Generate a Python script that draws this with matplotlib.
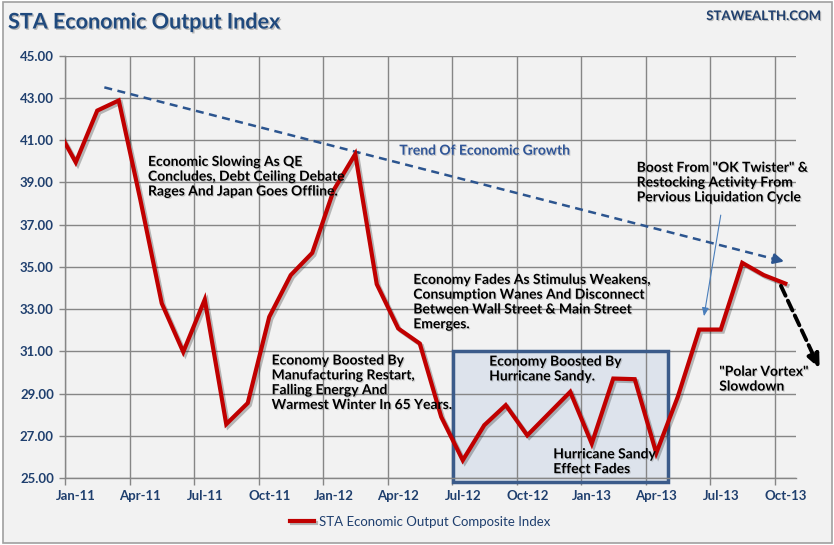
import matplotlib
matplotlib.use("Agg")
import matplotlib.pyplot as plt
import matplotlib.patheffects as pe
from matplotlib.patches import Rectangle
import numpy as np

plt.rcParams['font.family'] = ['Lato', 'DejaVu Sans']

# ---- data (monthly, Dec-10 .. Oct-13; first point lies left of the axis and is clipped)
months = ["Dec-10",
          "Jan-11", "Feb-11", "Mar-11", "Apr-11", "May-11", "Jun-11", "Jul-11", "Aug-11",
          "Sep-11", "Oct-11", "Nov-11", "Dec-11",
          "Jan-12", "Feb-12", "Mar-12", "Apr-12", "May-12", "Jun-12", "Jul-12", "Aug-12",
          "Sep-12", "Oct-12", "Nov-12", "Dec-12",
          "Jan-13", "Feb-13", "Mar-13", "Apr-13", "May-13", "Jun-13", "Jul-13", "Aug-13",
          "Sep-13", "Oct-13"]
index_values = [41.8,
                39.95, 42.40, 42.88, 38.20, 33.27, 30.97, 33.45, 27.55,
                28.55, 32.63, 34.61, 35.66,
                38.64, 40.34, 34.18, 32.08, 31.37, 27.89, 25.84, 27.50,
                28.45, 27.02, 28.05, 29.08,
                26.63, 29.71, 29.68, 26.18, 28.84, 32.03, 32.03, 35.19,
                34.61, 34.21]
tick_labels = ["Jan-11", "Apr-11", "Jul-11", "Oct-11", "Jan-12", "Apr-12", "Jul-12",
               "Oct-12", "Jan-13", "Apr-13", "Jul-13", "Oct-13"]
y_ticks = [25, 27, 29, 31, 33, 35, 37, 39, 41, 43, 45]
series_name = "STA Economic Output Composite Index"

NAVY = '#1f3f6e'
RED = '#c00000'
GRID = '#868686'

fig = plt.figure(figsize=(8.34, 5.45), dpi=100, facecolor='white')
# chart frame
fig.patches.append(Rectangle((3/834, 1-543/545), 829/834, 541/545, transform=fig.transFigure,
                             facecolor='#f2f2f2', edgecolor='#a0a0a0', lw=1.2, zorder=-10))

ax = fig.add_axes([65/834, 1-478/545, (796-65)/834, (478-55.7)/545])
ax.set_facecolor('#f2f2f2')
ax.patch.set_alpha(0)

x = np.arange(len(index_values)) - 1 + 0.5  # month centre positions, Jan-11 starts at 0
ax.set_xlim(0, 34)
ax.set_ylim(25, 45)

# grid
ax.set_axisbelow(True)
ax.set_xticks(np.arange(0, 34, 3))
ax.set_xticks(np.arange(0, 34, 3) + 0.5, minor=True)
ax.set_xticklabels([])
ax.set_xticklabels(tick_labels, minor=True)
ax.set_yticks(y_ticks)
ax.set_yticklabels([f"{v:.2f}" for v in y_ticks])
ax.grid(True, which='major', color=GRID, lw=1.0)
ax.tick_params(axis='x', which='major', length=5, color=GRID, width=1)
ax.tick_params(axis='x', which='minor', length=0, pad=9, labelsize=9.5, labelcolor=NAVY)
ax.tick_params(axis='y', length=4, color=GRID, width=1, pad=4, labelsize=9.5, labelcolor=NAVY)
for lab in ax.get_xticklabels(minor=True) + ax.get_yticklabels():
    lab.set_fontweight('bold')
for s in ['top', 'right']:
    ax.spines[s].set_visible(False)
for s in ['left', 'bottom']:
    ax.spines[s].set_color(GRID)
    ax.spines[s].set_linewidth(1.0)

# highlight box
box_x0, box_x1, box_y0, box_y1 = 18.03, 28.06, 24.81, 31.02
ax.add_patch(Rectangle((box_x0, box_y0), box_x1-box_x0, box_y1-box_y0, facecolor='#dde3ec',
                       edgecolor='none', zorder=0.3, clip_on=False))
ax.add_patch(Rectangle((box_x0, box_y0), box_x1-box_x0, box_y1-box_y0, facecolor='none',
                       edgecolor='#3b5b8a', lw=2.5, zorder=2, clip_on=False))

# main line
line, = ax.plot(x, index_values, color=RED, lw=3.0, zorder=4, solid_joinstyle='miter',
                label=series_name,
                path_effects=[pe.SimpleLineShadow(offset=(1.5, -1.5), shadow_color='k', alpha=0.25),
                              pe.Normal()])

# trend arrow
trend_start, trend_end = (1.83, 43.50), (33.57, 35.22)
ax.plot([trend_start[0], trend_end[0] - 0.5], [trend_start[1], trend_end[1] + 0.13],
        color='#2c558f', lw=1.8, ls=(0, (3.2, 2.2)), zorder=3, clip_on=False)
ax.annotate('', xy=trend_end, xytext=(trend_end[0]-0.6, trend_end[1]+0.16),
            arrowprops=dict(arrowstyle='-|>,head_length=0.6,head_width=0.3', color='#2c558f', lw=1.8),
            zorder=3, annotation_clip=False)

# polar vortex arrow
pv_start, pv_end = (33.3, 34.1), (35.1, 30.18)
ax.annotate('', xy=pv_end, xytext=pv_start,
            arrowprops=dict(arrowstyle='-|>,head_length=0.8,head_width=0.35', color='black',
                            lw=2.8, linestyle=(0, (2.8, 1.4)), shrinkA=0, shrinkB=0),
            zorder=5, annotation_clip=False)

# OK twister pointer
ax.annotate('', xy=(29.72, 32.66), xytext=(30.5, 37.45),
            arrowprops=dict(arrowstyle='-|>,head_length=0.5,head_width=0.2', color='#4a7ebb', lw=0.8,
                            shrinkA=0, shrinkB=0), zorder=5)

tshadow = [pe.withSimplePatchShadow(offset=(0.8, -0.8), shadow_rgbFace='#555555', alpha=0.25)]
txt_kw = dict(fontsize=10, fontweight='bold', color='black', va='center', ha='left',
              linespacing=1.28, zorder=6, path_effects=tshadow)
ax.text(3.86, 39.27, "Economic Slowing As QE\nConcludes, Debt Ceiling Debate\nRages And Japan Goes Offline.", **txt_kw)
ax.text(9.61, 29.51, "Economy Boosted By\nManufacturing Restart,\nFalling Energy And\nWarmest Winter In 65 Years.", **txt_kw)
ax.text(16.2, 33.33, "Economy Fades As Stimulus Weakens,\nConsumption Wanes And Disconnect\nBetween Wall Street & Main Street\nEmerges.", **txt_kw)
ax.text(19.73, 30.16, "Economy Boosted By\nHurricane Sandy.", **txt_kw)
ax.text(22.71, 25.77, "Hurricane Sandy\nEffect Fades", **txt_kw)
ax.text(26.59, 38.99, "Boost From \"OK Twister\" &\nRestocking Activity From\nPervious Liquidation Cycle", **txt_kw)
ax.text(30.43, 29.68, "\"Polar Vortex\"\nSlowdown", **txt_kw)
ax.text(15.55, 40.50, "Trend Of Economic Growth", fontsize=10, fontweight='bold', color='#2f5597',
        va='center', ha='left', zorder=6, path_effects=tshadow)

# titles
fig.text(8/834, 1-22/545, "STA Economic Output Index", fontsize=15.5, fontweight='bold',
         color='#1f497d', ha='left', va='center',
         path_effects=[pe.withSimplePatchShadow(offset=(1, -1), shadow_rgbFace='#333333', alpha=0.3)])
fig.text(822/834, 1-16/545, "STAWEALTH.COM", fontsize=9.5, fontweight='bold',
         color=NAVY, ha='right', va='center',
         path_effects=[pe.withSimplePatchShadow(offset=(0.8, -0.8), shadow_rgbFace='#333333', alpha=0.3)])

leg = fig.legend(handles=[line], labels=[series_name], loc='center', bbox_to_anchor=(420/834, 1-522/545),
                 frameon=False, fontsize=9.5, handlelength=1.8, handletextpad=0.4)
for t in leg.get_texts():
    t.set_color(NAVY)

fig.savefig('out.png', dpi=100, facecolor='white')
